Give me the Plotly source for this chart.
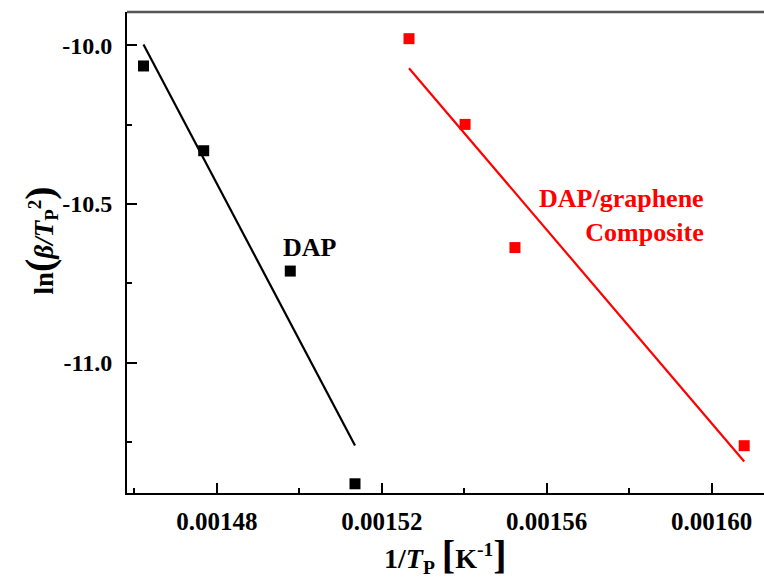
import numpy as np
import plotly.graph_objects as go

# Kissinger plot data: 1/Tp (K^-1) vs ln(beta/Tp^2)
dap_x = [0.0014622, 0.0014768, 0.0014978, 0.0015135]
dap_y = [-10.065, -10.332, -10.711, -11.381]

comp_x = [0.0015266, 0.0015402, 0.0015523, 0.0016079]
comp_y = [-9.979, -10.249, -10.637, -11.261]

x_tick_vals = [0.00148, 0.00152, 0.00156, 0.00160]
x_tick_text = ["0.00148", "0.00152", "0.00156", "0.00160"]
y_tick_vals = [-10.0, -10.5, -11.0]
y_tick_text = ["-10.0", "-10.5", "-11.0"]

FONT = "Liberation Serif, Times New Roman, serif"


def fit_line(x, y):
    k, b = np.polyfit(x, y, 1)
    xs = np.array([min(x), max(x)])
    return xs, k * xs + b


fig = go.Figure()

for xs, ys, color in [(dap_x, dap_y, "#000000"), (comp_x, comp_y, "#ff0000")]:
    lx, ly = fit_line(xs, ys)
    fig.add_trace(go.Scatter(x=lx, y=ly, mode="lines",
                             line=dict(color=color, width=2.2),
                             showlegend=False, hoverinfo="skip"))
    fig.add_trace(go.Scatter(x=xs, y=ys, mode="markers",
                             marker=dict(symbol="square", size=11, color=color,
                                         line=dict(width=0)),
                             showlegend=False))

fig.add_annotation(x=dap_x[2], y=dap_y[2], xref="x", yref="y",
                   text="<b>DAP</b>", showarrow=False,
                   xshift=20, yshift=24,
                   font=dict(family=FONT, size=26, color="#000000"))

fig.add_annotation(x=1, y=0.5, xref="paper", yref="paper",
                   text="<b>DAP/graphene<br>Composite</b>", showarrow=False,
                   xanchor="right", yanchor="middle", align="right",
                   xshift=-58, yshift=37,
                   font=dict(family=FONT, size=26, color="#ff0000"))

big = "<span style='font-size:40px'>{}</span>"

# y-axis title
fig.add_annotation(x=0, y=0.5, xref="paper", yref="paper",
                   text="<b>ln" + big.format("(") + "<i>β/T</i><sub>P</sub><sup>2</sup>"
                        + big.format(")") + "</b>",
                   textangle=-90, showarrow=False,
                   xanchor="center", yanchor="middle",
                   xshift=-88, yshift=12,
                   font=dict(family=FONT, size=27, color="#000000"))

# x-axis title
fig.add_annotation(x=0.5, y=0, xref="paper", yref="paper",
                   text="<b>1/<i>T</i><sub>P</sub> " + big.format("[") + "K<sup>-1</sup>"
                        + big.format("]") + "</b>",
                   showarrow=False, xanchor="center", yanchor="middle",
                   yshift=-62,
                   font=dict(family=FONT, size=28, color="#000000"))

# top frame line
fig.add_shape(type="line", xref="paper", yref="paper", x0=0, x1=1, y0=1, y1=1,
              line=dict(color="#555555", width=2.5))

fig.update_xaxes(range=[0.0014582, 0.0016127],
                 tickmode="array", tickvals=x_tick_vals, ticktext=x_tick_text,
                 ticks="inside", ticklen=10, tickwidth=2,
                 tickcolor="#000000", showline=True, linecolor="#000000",
                 linewidth=2, showgrid=False, zeroline=False,
                 minor=dict(ticks="inside", ticklen=5, tickwidth=2,
                            tickcolor="#000000", dtick=0.00002, tick0=0,
                            showgrid=False),
                 tickfont=dict(family=FONT, size=25, color="#000000",
                               weight="bold"),
                 ticklabelstandoff=5)
fig.update_yaxes(range=[-11.41, -9.895],
                 tickmode="array", tickvals=y_tick_vals, ticktext=y_tick_text,
                 ticks="inside", ticklen=10, tickwidth=2,
                 tickcolor="#000000", showline=True, linecolor="#000000",
                 linewidth=2, showgrid=False, zeroline=False,
                 minor=dict(ticks="inside", ticklen=5, tickwidth=2,
                            tickcolor="#000000", dtick=0.25, tick0=0,
                            showgrid=False),
                 tickfont=dict(family=FONT, size=24, color="#000000",
                               weight="bold"),
                 ticklabelstandoff=8)

fig.update_layout(width=764, height=578,
                  margin=dict(l=127, r=0, t=12, b=85),
                  plot_bgcolor="white", paper_bgcolor="white",
                  font=dict(family=FONT))

fig.write_html("out.html")
